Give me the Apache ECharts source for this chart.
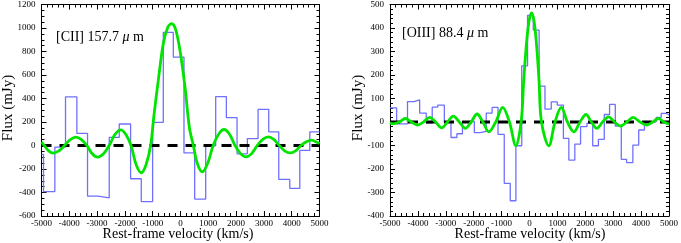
<!DOCTYPE html>
<html>
<head>
<meta charset="utf-8">
<script src="https://cdn.jsdelivr.net/npm/echarts@6/dist/echarts.min.js"></script>
<style>
html,body{margin:0;padding:0;background:#fff;}
#chart{width:681px;height:243px;}
</style>
</head>
<body>
<div id="chart"></div>
<script>
// ---------- DATA ----------
// [CII] panel: histogram bin edges (km/s) and flux per bin (mJy)
const ciiEdges = [-5000, -4928, -4520, -4136, -3728, -3344, -2960, -2564, -2203, -1795, -1411, -1003, -619, -259, 125, 510, 906, 1266, 1650, 2034, 2406, 2790, 3174, 3534, 3931, 4291, 4651, 5000];
const ciiFlux = [-75, -392, -14, 414, 103, -431, -446, 69, 183, -283, -477, 197, 962, 752, -63, -456, -3, 416, 238, -71, 59, 308, 116, -289, -365, -42, 116];
// [CII] fitted curve (velocity, flux)
const ciiFitV = [-5000, -4900, -4740, -4580, -4375, -4170, -3965, -3760, -3565, -3370, -3175, -2980, -2770, -2565, -2355, -2150, -1965, -1780, -1595, -1410, -1240, -1074, -955, -799, -619, -450, -318, -180, -19, 162, 317, 461, 605, 784, 980, 1175, 1370, 1566, 1764, 1962, 2160, 2358, 2560, 2760, 2960, 3161, 3355, 3550, 3746, 3942, 4138, 4333, 4530, 4724, 4862, 5000];
const ciiFitF = [28, 0, -46, -65, -46, 0, 50, 71, 50, 0, -70, -99, -70, 0, 94, 133, 94, 0, -164, -232, -164, 0, 257, 554, 866, 1010, 1036, 990, 809, 498, 158, 0, -153, -224, -150, 0, 96, 136, 96, 0, -69, -97, -69, 0, 52, 73, 52, 0, -45, -63, -45, 0, 32, 45, 32, 17];

// [OIII] panel
const oiiiEdges = [-5000, -4763, -4550, -4373, -4139, -3937, -3700, -3487, -3289, -3052, -2814, -2602, -2403, -2190, -1977, -1764, -1551, -1340, -1128, -905, -690, -488, -278, -70, 135, 345, 555, 780, 995, 1215, 1410, 1625, 1830, 2060, 2265, 2470, 2680, 2870, 3075, 3290, 3480, 3705, 3915, 4120, 4330, 4540, 4720, 4900, 5000];
const oiiiFlux = [60, -8, -8, 87, 94, 38, -5, 63, 72, 0, -66, -50, 2, 3, -45, -40, 38, 62, -53, -261, -335, -101, 239, 454, 391, 153, 55, 86, 72, -70, -162, -94, -20, -6, -101, -74, 32, 75, -17, -159, -173, -98, -34, -3, 1, 20, 37, 30];
const oiiiFitV = [-5000, -4880, -4665, -4450, -4235, -4020, -3800, -3580, -3365, -3150, -2940, -2730, -2515, -2300, -2090, -1880, -1670, -1458, -1210, -962, -720, -490, -300, -206, -112, -18, 76, 164, 253, 341, 430, 693, 915, 1139, 1360, 1590, 1810, 2025, 2220, 2414, 2620, 2829, 3050, 3265, 3490, 3714, 3960, 4210, 4420, 4625, 4810, 5000];
const oiiiFitF = [-4, -8, 0, 15, 0, -13, 0, 20, 0, -25, 0, 25, 0, -27, 0, 34, 0, -42, 0, 62, 0, -101, 0, 178, 328, 429, 464, 429, 328, 178, 0, -101, 0, 62, 0, -42, 0, 32, 0, -27, 0, 22, 0, -17, 0, 20, 0, -13, 0, 15, 0, -9];

// axis ranges / ticks
const xMin = -5000, xMax = 5000, xStep = 1000;
const ciiYMin = -600, ciiYMax = 1200, ciiYStep = 200;
const oiiiYMin = -400, oiiiYMax = 500, oiiiYStep = 100;
const lineLabels = ['[CII] 157.7 ', '[OIII] 88.4 '];
const xTitle = 'Rest-frame velocity (km/s)';
const yTitle = 'Flux (mJy)';

// ---------- helpers ----------
function stepData(edges, vals) {
  const d = vals.map((v, i) => [edges[i], v]);
  d.push([edges[edges.length - 1], vals[vals.length - 1]]);
  return d;
}
function zip(a, b) { return a.map((v, i) => [v, b[i]]); }

const FONT = 'Liberation Serif';
const grids = [
  {left: 41.5, top: 4, width: 278, height: 212},
  {left: 390, top: 4, width: 282, height: 212}
];
const plain = v => String(v);

function xAx(gi, pos) {
  return {
    type: 'value', gridIndex: gi, position: pos, min: xMin, max: xMax, interval: xStep,
    axisLine: {show: true, onZero: false, lineStyle: {color: '#000', width: 1}},
    axisTick: {show: true, inside: true, length: 5, lineStyle: {color: '#000', width: 1}},
    minorTick: {show: true, splitNumber: 5, length: 3, lineStyle: {color: '#000', width: 1}},
    splitLine: {show: false}, minorSplitLine: {show: false},
    axisLabel: {show: pos === 'bottom', fontFamily: FONT, fontSize: 9, color: '#000', margin: 3, formatter: plain, hideOverlap: false}
  };
}
function yAx(gi, pos, mn, mx, st, minorN) {
  return {
    type: 'value', gridIndex: gi, position: pos, min: mn, max: mx, interval: st,
    axisLine: {show: true, onZero: false, lineStyle: {color: '#000', width: 1}},
    axisTick: {show: true, inside: true, length: 5, lineStyle: {color: '#000', width: 1}},
    minorTick: {show: true, splitNumber: minorN, length: 3, lineStyle: {color: '#000', width: 1}},
    splitLine: {show: false}, minorSplitLine: {show: false},
    axisLabel: {show: pos === 'left', fontFamily: FONT, fontSize: 9, color: '#000', margin: 6, formatter: plain, hideOverlap: false}
  };
}

function panelSeries(xi, yi, edges, vals, fv, ff) {
  return [
    {type: 'line', xAxisIndex: xi, yAxisIndex: yi, data: stepData(edges, vals), step: 'end',
     showSymbol: false, lineStyle: {color: '#7070ff', width: 1.3}, z: 2, silent: true},
    {type: 'line', xAxisIndex: xi, yAxisIndex: yi, data: [[xMin, 0], [xMax, 0]],
     showSymbol: false, lineStyle: {color: '#000', width: 2.8, type: [10, 8]}, z: 3, silent: true},
    {type: 'line', xAxisIndex: xi, yAxisIndex: yi, data: zip(fv, ff), smooth: 0.35,
     showSymbol: false, lineStyle: {color: '#00e400', width: 2.8}, z: 4, silent: true}
  ];
}

const chart = echarts.init(document.getElementById('chart'), null, {renderer: 'canvas'});
chart.setOption({
  animation: false,
  backgroundColor: '#fff',
  grid: grids.map(g => Object.assign({containLabel: false}, g)),
  xAxis: [xAx(0, 'bottom'), xAx(0, 'top'), xAx(1, 'bottom'), xAx(1, 'top')],
  yAxis: [
    yAx(0, 'left', ciiYMin, ciiYMax, ciiYStep, 4), yAx(0, 'right', ciiYMin, ciiYMax, ciiYStep, 4),
    yAx(1, 'left', oiiiYMin, oiiiYMax, oiiiYStep, 5), yAx(1, 'right', oiiiYMin, oiiiYMax, oiiiYStep, 5)
  ],
  series: [].concat(
    panelSeries(0, 0, ciiEdges, ciiFlux, ciiFitV, ciiFitF),
    panelSeries(2, 2, oiiiEdges, oiiiFlux, oiiiFitV, oiiiFitF)
  ),
  graphic: [
    {type: 'text', x: 8, y: 108, rotation: Math.PI / 2, style: {text: yTitle, font: '15px "Liberation Serif"', fill: '#000', textAlign: 'center', textVerticalAlign: 'middle'}},
    {type: 'text', x: 358, y: 108, rotation: Math.PI / 2, style: {text: yTitle, font: '15px "Liberation Serif"', fill: '#000', textAlign: 'center', textVerticalAlign: 'middle'}},
    {type: 'text', x: 178, y: 234, style: {text: xTitle, font: '14px "Liberation Serif"', fill: '#000', textAlign: 'center', textVerticalAlign: 'middle'}},
    {type: 'text', x: 530, y: 234, style: {text: xTitle, font: '14px "Liberation Serif"', fill: '#000', textAlign: 'center', textVerticalAlign: 'middle'}},
    {type: 'text', x: 56, y: 37, style: {text: lineLabels[0] + '{i|\u03bc} m', font: '14px "Liberation Serif"', fill: '#000', textVerticalAlign: 'middle',
      rich: {i: {fontFamily: FONT, fontSize: 14, fontStyle: 'italic', fill: '#000'}}}},
    {type: 'text', x: 402, y: 33, style: {text: lineLabels[1] + '{i|\u03bc} m', font: '14px "Liberation Serif"', fill: '#000', textVerticalAlign: 'middle',
      rich: {i: {fontFamily: FONT, fontSize: 14, fontStyle: 'italic', fill: '#000'}}}}
  ]
});
</script>
</body>
</html>
